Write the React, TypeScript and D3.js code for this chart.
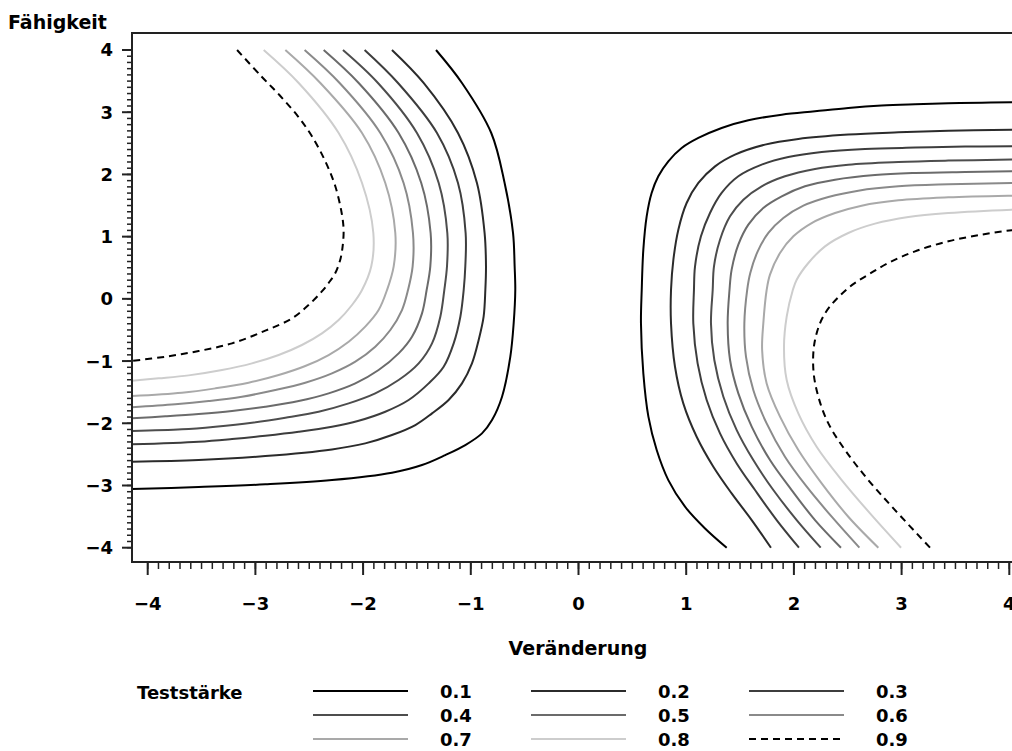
import React from "react";
import * as d3 from "d3";

// ---- data ----
const levels = ["0.1", "0.2", "0.3", "0.4", "0.5", "0.6", "0.7", "0.8", "0.9"];
const xTicks = [-4, -3, -2, -1, 0, 1, 2, 3, 4];
const yTicks = [-4, -3, -2, -1, 0, 1, 2, 3, 4];

// left branch contours [Veränderung, Fähigkeit]
const L01 = [[-1.323,4],[-1.082,3.47],[-0.81,2.666],[-0.686,1.862],[-0.608,1.059],[-0.593,0.523],[-0.587,0.142],[-0.602,-0.394],[-0.633,-0.93],[-0.71,-1.573],[-0.803,-1.948],[-0.896,-2.162],[-1.051,-2.35],[-1.237,-2.511],[-1.453,-2.671],[-1.732,-2.795],[-2.289,-2.913],[-2.908,-2.982],[-3.527,-3.025],[-4.15,-3.057]];
const L02 = [[-1.732,4],[-1.438,3.47],[-1.119,2.666],[-0.943,1.862],[-0.872,1.059],[-0.859,0.523],[-0.865,0.142],[-0.881,-0.287],[-0.927,-0.662],[-0.989,-1.037],[-1.082,-1.359],[-1.206,-1.626],[-1.36,-1.841],[-1.515,-2.028],[-1.732,-2.189],[-1.98,-2.323],[-2.289,-2.42],[-2.908,-2.527],[-3.527,-2.591],[-4.15,-2.618]];
const L03 = [[-1.986,4],[-1.676,3.47],[-1.314,2.666],[-1.119,1.862],[-1.048,1.059],[-1.051,0.523],[-1.066,0.142],[-1.097,-0.287],[-1.159,-0.715],[-1.252,-1.091],[-1.391,-1.359],[-1.577,-1.626],[-1.794,-1.814],[-2.041,-1.959],[-2.289,-2.055],[-2.598,-2.136],[-2.908,-2.2],[-3.217,-2.253],[-3.527,-2.296],[-4.15,-2.339]];
const L04 = [[-2.187,4],[-1.862,3.47],[-1.5,2.666],[-1.298,1.862],[-1.218,1.059],[-1.221,0.523],[-1.246,0.142],[-1.283,-0.287],[-1.36,-0.715],[-1.484,-1.037],[-1.67,-1.305],[-1.887,-1.519],[-2.134,-1.68],[-2.413,-1.814],[-2.722,-1.91],[-3.032,-1.991],[-3.372,-2.055],[-3.682,-2.098],[-4.15,-2.125]];
const L05 = [[-2.366,4],[-2.041,3.47],[-1.67,2.666],[-1.46,1.862],[-1.373,1.059],[-1.376,0.523],[-1.41,0.142],[-1.453,-0.233],[-1.546,-0.608],[-1.67,-0.876],[-1.856,-1.144],[-2.072,-1.359],[-2.32,-1.519],[-2.598,-1.643],[-2.908,-1.734],[-3.217,-1.803],[-3.527,-1.852],[-3.836,-1.889],[-4.15,-1.921]];
const L06 = [[-2.543,4],[-2.218,3.47],[-1.84,2.666],[-1.624,1.862],[-1.537,1.059],[-1.54,0.523],[-1.583,0.142],[-1.639,-0.18],[-1.747,-0.501],[-1.887,-0.769],[-2.072,-1.01],[-2.289,-1.198],[-2.537,-1.348],[-2.815,-1.466],[-3.125,-1.573],[-3.434,-1.643],[-3.744,-1.696],[-4.15,-1.744]];
const L07 = [[-2.722,4],[-2.397,3.47],[-2.01,2.666],[-1.794,1.862],[-1.701,1.059],[-1.716,0.523],[-1.778,0.142],[-1.856,-0.18],[-1.98,-0.447],[-2.134,-0.689],[-2.32,-0.903],[-2.537,-1.08],[-2.784,-1.225],[-3.063,-1.348],[-3.372,-1.439],[-3.682,-1.509],[-4.15,-1.562]];
const L08 = [[-2.923,4],[-2.598,3.47],[-2.227,2.666],[-2.01,1.862],[-1.905,1.059],[-1.924,0.523],[-2.01,0.142],[-2.103,-0.099],[-2.227,-0.34],[-2.382,-0.555],[-2.568,-0.742],[-2.784,-0.903],[-3.032,-1.037],[-3.31,-1.144],[-3.62,-1.23],[-3.898,-1.278],[-4.15,-1.316]];
const L09 = [[-3.17,4],[-2.945,3.577],[-2.775,3.272],[-2.605,2.934],[-2.475,2.613],[-2.351,2.211],[-2.258,1.809],[-2.199,1.38],[-2.181,1.112],[-2.19,0.844],[-2.212,0.63],[-2.258,0.415],[-2.32,0.255],[-2.385,0.115],[-2.506,-0.099],[-2.66,-0.313],[-2.908,-0.512],[-3.217,-0.715],[-3.527,-0.839],[-3.836,-0.93],[-4.15,-0.999]];

// right branch contours
const R01 = [[4.15,3.16],[4.022,3.159],[3.744,3.154],[3.434,3.143],[3.125,3.127],[2.815,3.106],[2.505,3.068],[2.196,3.015],[1.887,2.961],[1.577,2.87],[1.329,2.747],[1.113,2.586],[0.958,2.425],[0.834,2.211],[0.741,1.97],[0.679,1.702],[0.633,1.327],[0.602,0.791],[0.587,0.142],[0.58,-0.394],[0.602,-1.198],[0.649,-1.894],[0.726,-2.43],[0.834,-2.913],[0.989,-3.341],[1.175,-3.69],[1.376,-4]];
const R02 = [[4.15,2.722],[4.022,2.72],[3.434,2.704],[2.97,2.677],[2.505,2.64],[2.041,2.57],[1.732,2.479],[1.453,2.318],[1.268,2.13],[1.113,1.863],[1.004,1.541],[0.927,1.112],[0.881,0.63],[0.859,0.142],[0.859,-0.394],[0.896,-1.091],[0.973,-1.68],[1.097,-2.216],[1.252,-2.698],[1.422,-3.127],[1.608,-3.556],[1.787,-4]];
const R03 = [[4.15,2.453],[4.022,2.452],[3.589,2.447],[3.125,2.431],[2.66,2.409],[2.258,2.361],[1.948,2.28],[1.701,2.157],[1.484,1.97],[1.329,1.702],[1.221,1.38],[1.137,1.005],[1.082,0.523],[1.072,0.142],[1.066,-0.394],[1.106,-1.037],[1.19,-1.626],[1.314,-2.162],[1.469,-2.645],[1.639,-3.073],[1.84,-3.556],[2.047,-4]];
const R04 = [[4.15,2.24],[4.022,2.238],[3.434,2.222],[2.97,2.2],[2.505,2.157],[2.196,2.088],[1.917,1.97],[1.701,1.809],[1.531,1.594],[1.407,1.327],[1.314,0.951],[1.258,0.523],[1.246,0.142],[1.23,-0.394],[1.261,-0.983],[1.345,-1.573],[1.469,-2.109],[1.623,-2.591],[1.809,-3.073],[2.026,-3.556],[2.249,-4]];
const R05 = [[4.15,2.052],[4.022,2.05],[3.589,2.039],[3.125,2.023],[2.753,1.991],[2.382,1.916],[2.103,1.809],[1.887,1.648],[1.716,1.461],[1.577,1.193],[1.484,0.871],[1.422,0.469],[1.402,0.142],[1.385,-0.394],[1.407,-0.983],[1.484,-1.519],[1.608,-2.055],[1.778,-2.591],[1.979,-3.073],[2.196,-3.556],[2.437,-4]];
const R06 = [[4.15,1.865],[4.022,1.862],[3.434,1.841],[2.97,1.809],[2.598,1.739],[2.32,1.637],[2.088,1.498],[1.902,1.3],[1.763,1.059],[1.664,0.764],[1.595,0.416],[1.566,0.142],[1.54,-0.394],[1.555,-0.93],[1.623,-1.466],[1.747,-2.002],[1.917,-2.537],[2.119,-3.02],[2.351,-3.502],[2.608,-4]];
const R07 = [[4.15,1.662],[4.022,1.659],[3.434,1.632],[2.97,1.584],[2.629,1.498],[2.382,1.38],[2.165,1.219],[1.995,1.005],[1.871,0.737],[1.778,0.389],[1.747,0.142],[1.716,-0.394],[1.705,-0.823],[1.747,-1.359],[1.871,-1.894],[2.041,-2.43],[2.258,-2.966],[2.505,-3.502],[2.784,-4]];
const R08 = [[4.15,1.44],[4.022,1.434],[3.434,1.38],[3.063,1.316],[2.753,1.209],[2.505,1.059],[2.289,0.844],[2.134,0.576],[2.026,0.308],[1.99,0.142],[1.933,-0.287],[1.908,-0.769],[1.933,-1.305],[2.041,-1.841],[2.211,-2.377],[2.444,-2.913],[2.707,-3.448],[2.995,-4]];
const R09 = [[4.15,1.108],[4.022,1.102],[3.744,1.032],[3.434,0.925],[3.125,0.764],[2.877,0.576],[2.691,0.389],[2.505,0.175],[2.289,-0.233],[2.196,-0.662],[2.181,-1.144],[2.227,-1.573],[2.32,-2.002],[2.475,-2.43],[2.691,-2.913],[2.939,-3.395],[3.264,-4]];

const leftBranch = [L01, L02, L03, L04, L05, L06, L07, L08, L09];
const rightBranch = [R01, R02, R03, R04, R05, R06, R07, R08, R09];

// ---- styles ----
const strokes = ["#000000", "#2b2b2b", "#3d3d3d", "#4d4d4d", "#6b6b6b", "#8a8a8a", "#a9a9a9", "#cdcdcd", "#000000"];
const dashes = [null, null, null, null, null, null, null, null, "7,5"];

const FONT = "'DejaVu Sans', Verdana, sans-serif";
const AXIS = "#222";

export default function App() {
  const W = 1012, H = 751;
  const frame = { x0: 132, y0: 33, x1: 1030, y1: 562 };
  const x = d3.scaleLinear().domain([-4, 4]).range([147.7, 1009.3]);
  const y = d3.scaleLinear().domain([-4, 4]).range([547.7, 50]);
  const line = d3
    .line<number[]>()
    .x((d) => x(d[0]))
    .y((d) => y(d[1]))
    .curve(d3.curveCatmullRom.alpha(0.5));

  const minor = d3.range(-40, 41).map((i) => i / 10);
  const fmt = (v: number) => (v < 0 ? "\u2212" + Math.abs(v) : String(v));

  const legendCols = [313, 531, 749];
  const legendRows = [691, 715, 739];

  return (
    <svg
      width={W}
      height={H}
      style={{ position: "absolute", left: 0, top: 0, background: "#fff" }}
      fontFamily={FONT}
    >
      <defs>
        <clipPath id="plotclip">
          <rect x={frame.x0} y={frame.y0} width={frame.x1 - frame.x0} height={frame.y1 - frame.y0} />
        </clipPath>
      </defs>
      <rect width={W} height={H} fill="#fff" />

      {/* contours */}
      <g clipPath="url(#plotclip)" fill="none" strokeWidth={2} strokeLinejoin="round">
        {leftBranch.map((pts, i) => (
          <path key={"l" + i} d={line(pts) || ""} stroke={strokes[i]} strokeDasharray={dashes[i] || undefined} />
        ))}
        {rightBranch.map((pts, i) => (
          <path key={"r" + i} d={line(pts) || ""} stroke={strokes[i]} strokeDasharray={dashes[i] || undefined} />
        ))}
      </g>

      {/* frame */}
      <path
        d={`M${frame.x1},${frame.y0}H${frame.x0}V${frame.y1}H${frame.x1}`}
        fill="none"
        stroke={AXIS}
        strokeWidth={2}
      />

      {/* ticks */}
      <g stroke={AXIS} strokeWidth={2}>
        {minor.map((v) => (
          <line key={"ym" + v} x1={frame.x0 - 5} x2={frame.x0} y1={y(v)} y2={y(v)} strokeWidth={1.5} />
        ))}
        {yTicks.map((v) => (
          <line key={"yM" + v} x1={frame.x0 - 10} x2={frame.x0} y1={y(v)} y2={y(v)} />
        ))}
        {minor.map((v) => (
          <line key={"xm" + v} y1={frame.y1} y2={frame.y1 + 7} x1={x(v)} x2={x(v)} strokeWidth={1.5} />
        ))}
        {xTicks.map((v) => (
          <line key={"xM" + v} y1={frame.y1} y2={frame.y1 + 13} x1={x(v)} x2={x(v)} />
        ))}
      </g>

      {/* tick labels */}
      <g fontSize={18} fontWeight="bold" fill="#000">
        {yTicks.map((v) => (
          <text key={"yl" + v} x={113} y={y(v)} dy="0.36em" textAnchor="end">
            {fmt(v)}
          </text>
        ))}
        {xTicks.map((v) => (
          <text key={"xl" + v} x={x(v)} y={610} textAnchor="middle">
            {fmt(v)}
          </text>
        ))}
      </g>

      {/* axis titles */}
      <text x={8} y={29} fontSize={19} fontWeight="bold">Fähigkeit</text>
      <text x={578} y={655} fontSize={19} fontWeight="bold" textAnchor="middle">Veränderung</text>

      {/* legend */}
      <text x={137} y={699} fontSize={18} fontWeight="bold">Teststärke</text>
      {levels.map((lab, i) => {
        const col = i % 3;
        const row = Math.floor(i / 3);
        const lx = legendCols[col];
        const ly = legendRows[row];
        return (
          <g key={"lg" + i}>
            <line
              x1={lx}
              x2={lx + 95}
              y1={ly}
              y2={ly}
              stroke={strokes[i]}
              strokeWidth={2}
              strokeDasharray={dashes[i] || undefined}
            />
            <text x={lx + 127} y={ly + 7} fontSize={18} fontWeight="bold">
              {lab}
            </text>
          </g>
        );
      })}
    </svg>
  );
}
